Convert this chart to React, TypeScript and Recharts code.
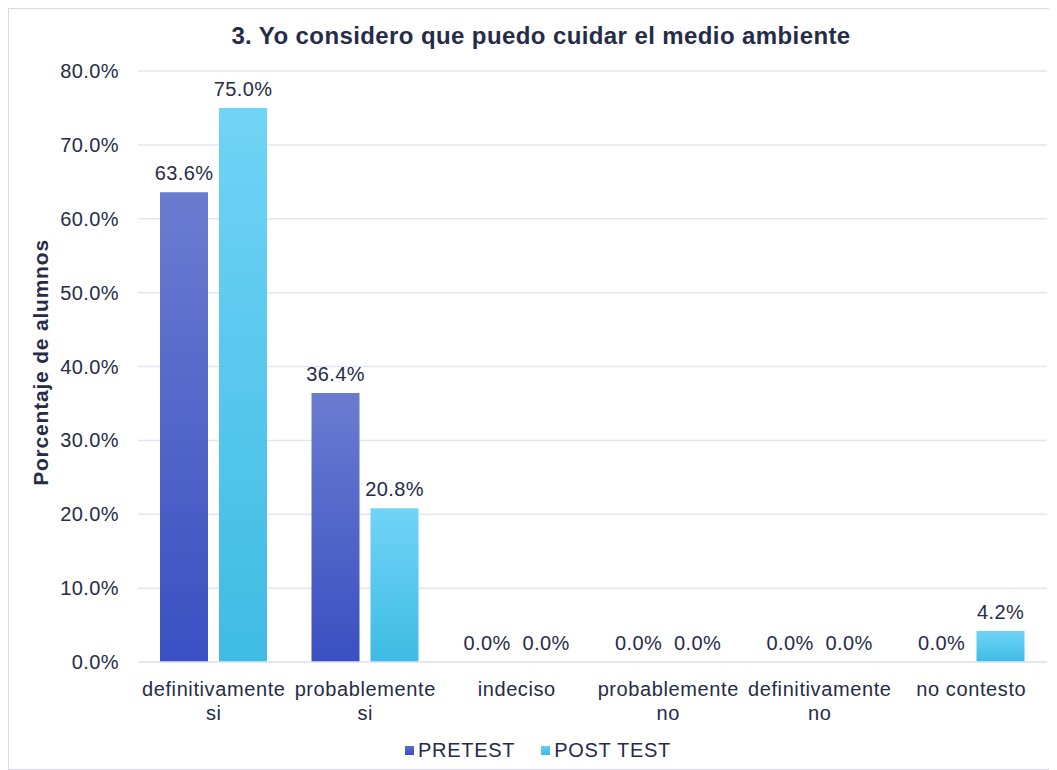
import React from "react";
import { BarChart, Bar, XAxis, YAxis, CartesianGrid, Legend, LabelList } from "recharts";

const categories = [
  "definitivamente si",
  "probablemente si",
  "indeciso",
  "probablemente no",
  "definitivamente no",
  "no contesto",
];
const pretest = [0.636, 0.364, 0, 0, 0, 0];
const postTest = [0.75, 0.208, 0, 0, 0, 0.042];
const yTicks = [0, 0.1, 0.2, 0.3, 0.4, 0.5, 0.6, 0.7, 0.8];

const data = categories.map((c, i) => ({ name: c, pre: pretest[i], post: postTest[i] }));

const TEXT = "#262b48";
const FONT = "'Liberation Sans', Arial, sans-serif";
const pct = (v: any) => `${(Number(v) * 100).toFixed(1)}%`;

function wrap(label: string, max: number): string[] {
  const words = label.split(" ");
  const lines: string[] = [];
  let cur = "";
  for (const w of words) {
    const next = cur ? cur + " " + w : w;
    if (next.length > max && cur) {
      lines.push(cur);
      cur = w;
    } else cur = next;
  }
  if (cur) lines.push(cur);
  return lines;
}

const Tick = (props: any) => {
  const { x, y, payload } = props;
  const lines = wrap(String(payload.value), 15);
  return (
    <g transform={`translate(${x},${y})`}>
      {lines.map((l, i) => (
        <text
          key={i}
          x={0}
          y={i * 24}
          dy={26}
          textAnchor="middle"
          fill={TEXT}
          fontSize={20}
          letterSpacing={0.6}
          fontFamily={FONT}
        >
          {l}
        </text>
      ))}
    </g>
  );
};

const LegendContent = () => (
  <div
    style={{
      display: "flex",
      justifyContent: "center",
      alignItems: "center",
      fontFamily: FONT,
      fontSize: 20,
      color: TEXT,
      letterSpacing: 0.7,
      paddingLeft: 20,
      paddingTop: 14,
    }}
  >
    <span style={{ display: "inline-block", width: 9, height: 9, background: "linear-gradient(#5a6ccc,#3a4fc2)", marginRight: 4 }} />
    <span style={{ marginRight: 26 }}>PRETEST</span>
    <span style={{ display: "inline-block", width: 9, height: 9, background: "linear-gradient(#62cff3,#3fbbe4)", marginRight: 4 }} />
    <span>POST TEST</span>
  </div>
);

export default function App() {
  return (
    <div
      style={{
        position: "relative",
        width: 1047,
        height: 760,
        border: "1px solid #d6d9ee",
        background: "#fff",
        fontFamily: FONT,
      }}
    >
      <div
        style={{
          position: "absolute",
          top: 13,
          left: 0,
          width: 1064,
          textAlign: "center",
          fontSize: 24,
          letterSpacing: 0.4,
          fontWeight: "bold",
          color: TEXT,
          zIndex: 2,
        }}
      >
        3. Yo considero que puedo cuidar el medio ambiente
      </div>
      <BarChart
        width={1047}
        height={760}
        data={data}
        margin={{ top: 62, right: 9, bottom: 0, left: 0 }}
        barCategoryGap={22}
        barGap={11}
      >
        <defs>
          <linearGradient id="gPre" x1="0" y1="0" x2="0" y2="1">
            <stop offset="0%" stopColor="#6b7cd0" />
            <stop offset="100%" stopColor="#3a4fc2" />
          </linearGradient>
          <linearGradient id="gPost" x1="0" y1="0" x2="0" y2="1">
            <stop offset="0%" stopColor="#70d4f6" />
            <stop offset="100%" stopColor="#3fbbe4" />
          </linearGradient>
        </defs>
        <CartesianGrid vertical={false} stroke="#e4e5ef" strokeWidth={1.5} />
        <XAxis
          dataKey="name"
          tick={<Tick />}
          tickLine={false}
          axisLine={{ stroke: "#e4e5ef", strokeWidth: 1.5 }}
          interval={0}
          height={63}
        />
        <YAxis
          domain={[0, 0.8]}
          ticks={yTicks}
          tickFormatter={pct}
          tick={{ fill: TEXT, fontSize: 20, fontFamily: FONT, letterSpacing: 0.4 }}
          tickLine={false}
          axisLine={false}
          width={129}
          tickMargin={13}
          label={{
            value: "Porcentaje de alumnos",
            angle: -90,
            position: "insideLeft",
            offset: 32,
            dy: -4,
            style: { fill: TEXT, fontSize: 21, fontWeight: "bold", fontFamily: FONT, textAnchor: "middle", letterSpacing: 0.8 },
          }}
        />
        <Legend verticalAlign="bottom" height={44} content={<LegendContent />} />
        <Bar dataKey="pre" name="PRETEST" fill="url(#gPre)" minPointSize={0.01} isAnimationActive={false}>
          <LabelList dataKey="pre" position="top" formatter={pct} fill={TEXT} fontSize={20} fontFamily={FONT} letterSpacing={0.4} offset={12} />
        </Bar>
        <Bar dataKey="post" name="POST TEST" fill="url(#gPost)" minPointSize={0.01} isAnimationActive={false}>
          <LabelList dataKey="post" position="top" formatter={pct} fill={TEXT} fontSize={20} fontFamily={FONT} letterSpacing={0.4} offset={12} />
        </Bar>
      </BarChart>
    </div>
  );
}
